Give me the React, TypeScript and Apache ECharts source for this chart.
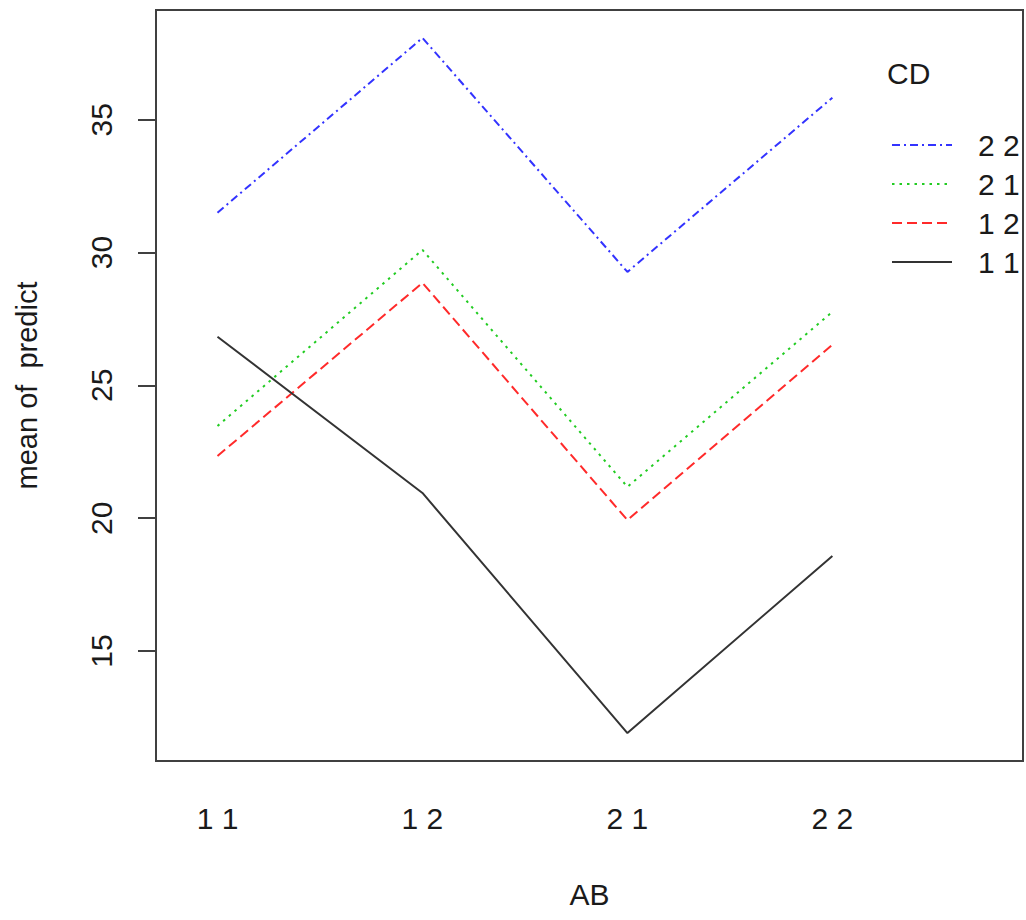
import React, { useEffect, useRef } from "react";
import * as echarts from "echarts";

const abLevels = ["1 1", "1 2", "2 1", "2 2"];
const cdLevels = ["2 2", "2 1", "1 2", "1 1"];
const cd22 = [31.5, 38.08, 29.27, 35.83];
const cd21 = [23.47, 30.1, 21.18, 27.77];
const cd12 = [22.34, 28.86, 19.93, 26.53];
const cd11 = [26.83, 20.95, 11.91, 18.58];
const yTicks = [15, 20, 25, 30, 35];

const FONT = "Liberation Sans, Arial, sans-serif";

export default function App() {
  const ref = useRef<HTMLDivElement>(null);
  useEffect(() => {
    document.body.style.margin = "0";
    const chart = echarts.init(ref.current!, null, { renderer: "svg" });
    const toPts = (arr: number[]) => arr.map((v, i) => [i, v]);
    const seriesDefs = [
      { name: cdLevels[0], data: cd22, color: "#3333ff", type: [8, 4, 2, 4] as any },
      { name: cdLevels[1], data: cd21, color: "#22cc22", type: [2.5, 5] as any },
      { name: cdLevels[2], data: cd12, color: "#ff2a2a", type: [10, 5] as any },
      { name: cdLevels[3], data: cd11, color: "#333333", type: "solid" as any },
    ];
    chart.setOption({
      animation: false,
      grid: {
        left: 156,
        right: 3,
        top: 10,
        bottom: 159,
        show: true,
        borderColor: "#404040",
        borderWidth: 2,
        backgroundColor: "transparent",
      },
      xAxis: {
        type: "value",
        min: -0.3,
        max: 3.93,
        splitLine: { show: false },
        axisLine: { show: false },
        axisTick: { show: false },
        axisLabel: {
          customValues: [0, 1, 2, 3],
          formatter: (v: number) => abLevels[Math.round(v)],
          fontFamily: FONT,
          fontSize: 30,
          color: "#1a1a1a",
          margin: 42,
        },
        name: "AB",
        nameLocation: "middle",
        nameGap: 118,
        nameTextStyle: { fontFamily: FONT, fontSize: 30, color: "#1a1a1a" },
      },
      yAxis: {
        type: "value",
        min: 10.86,
        max: 39.13,
        splitLine: { show: false },
        axisLine: { show: true, onZero: false, lineStyle: { color: "#404040", width: 2 } },
        axisTick: {
          show: true,
          customValues: yTicks,
          length: 18,
          lineStyle: { color: "#404040", width: 2 },
        },
        axisLabel: {
          customValues: yTicks,
          rotate: 90,
          fontFamily: FONT,
          fontSize: 30,
          color: "#1a1a1a",
          margin: 40,
        },
        name: "mean of  predict",
        nameLocation: "middle",
        nameGap: 115,
        nameTextStyle: { fontFamily: FONT, fontSize: 29, color: "#1a1a1a" },
      },
      legend: {
        data: cdLevels,
        orient: "vertical",
        left: 886,
        top: 125,
        itemWidth: 60,
        itemHeight: 14,
        itemGap: 9,
        itemStyle: { opacity: 0 },
        textStyle: {
          fontFamily: FONT,
          fontSize: 30,
          color: "#1a1a1a",
          padding: [0, 0, 0, 21],
        },
      },
      graphic: [
        {
          type: "text",
          left: 887,
          top: 58,
          style: { text: "CD", fontFamily: FONT, fontSize: 30, fill: "#1a1a1a" },
        },
      ],
      series: seriesDefs.map((s) => ({
        name: s.name,
        type: "line",
        data: toPts(s.data),
        symbol: "none",
        color: s.color,
        lineStyle: { color: s.color, width: 2, type: s.type },
      })),
    });
    return () => chart.dispose();
  }, []);
  return <div ref={ref} style={{ width: 1026, height: 920 }} />;
}
